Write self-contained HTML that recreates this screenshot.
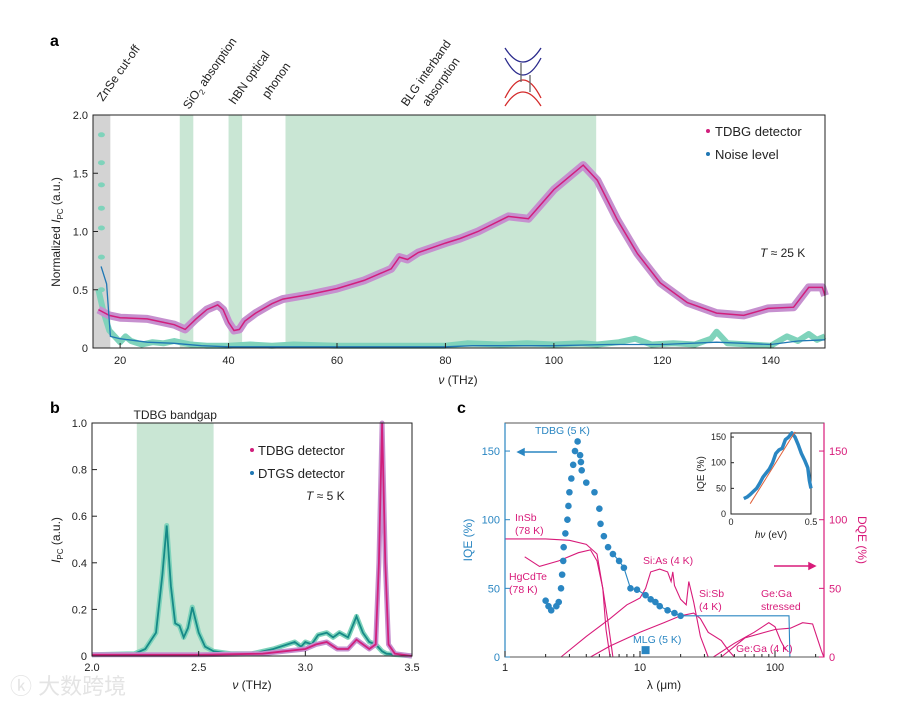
<!DOCTYPE html>
<html><head><meta charset="utf-8"><style>
body{margin:0;background:#fff;}
svg{display:block;font-family:"Liberation Sans","Noto Sans CJK SC",sans-serif;}
</style></head><body>
<svg id="fig" width="919" height="702" viewBox="0 0 919 702">
<rect x="0" y="0" width="919" height="702" fill="#fff"/>
<text x="50" y="46" font-size="16" font-weight="bold">a</text>
<text x="50" y="413" font-size="16" font-weight="bold">b</text>
<text x="457" y="413" font-size="16" font-weight="bold">c</text>
<g font-size="12" fill="#222">
<text transform="translate(103,102) rotate(-55)">ZnSe cut-off</text>
<text transform="translate(189,110) rotate(-55)">SiO<tspan font-size="8" dy="3">2</tspan><tspan dy="-3"> absorption</tspan></text>
<text transform="translate(235,105) rotate(-55)">hBN optical</text>
<text transform="translate(268,99) rotate(-55)">phonon</text>
<text transform="translate(407,107) rotate(-55)">BLG interband</text>
<text transform="translate(428,107) rotate(-55)">absorption</text>
</g>
<g fill="none" stroke-width="1.3">
<path d="M505,48 Q523,76 541,48" stroke="#2a2a8c"/>
<path d="M505,58 Q523,92 541,58" stroke="#2a2a8c"/>
<path d="M505,98 Q523,62 541,98" stroke="#d42a2a"/>
<path d="M505,106 Q523,78 541,106" stroke="#d42a2a"/>
<path d="M521,82 L521,63" stroke="#666"/>
<path d="M530,92 L530,75" stroke="#666"/>
</g>
<g id="pa"></g><g id="pb"></g><g id="pc"></g>
<text x="10" y="694" font-size="22" fill="#e4e4e4">ⓚ 大数跨境</text>
</svg>
<script>
// ---------- Panel a data ----------
const aTdbgX=[16,18,20,25,28,30,32,34,36,38,39,40,41,42,43,45,48,50,55,60,65,70,71.5,73,75,80,82.7,86,91.6,95.3,100,105.4,108,111.7,115.4,119.6,124.6,130,135,139.5,144.2,147,149.5,150];
const aTdbgY=[0.33,0.28,0.26,0.25,0.22,0.2,0.16,0.25,0.33,0.37,0.33,0.22,0.15,0.16,0.23,0.3,0.38,0.42,0.46,0.51,0.58,0.68,0.78,0.76,0.82,0.9,0.94,1.0,1.13,1.11,1.36,1.57,1.44,1.1,0.81,0.56,0.39,0.3,0.28,0.34,0.35,0.52,0.52,0.45];
const aNoiseX=[16.5,17.5,18.2,20,25,30,35,40,50,60,80,85,100,110,120,130,140,145,150];
const aNoiseY=[0.7,0.55,0.1,0.08,0.05,0.04,0.02,0.01,0.01,0.01,0.01,0.02,0.02,0.03,0.03,0.05,0.03,0.06,0.07];
const aRawNoiseX=[16,17,18,19,20,21,22,24,26,28,30,33,36,40,44,48,52,60,70,80,84,90,95,100,105,108,112,115,118,122,126,129,130,132,136,140,143,145,147,148.5,150];
const aRawNoiseY=[0.5,0.3,0.15,0.1,0.05,0.1,0.06,0.03,0.05,0.04,0.06,0.03,0.02,0.02,0.03,0.02,0.03,0.02,0.02,0.02,0.04,0.03,0.04,0.03,0.04,0.03,0.05,0.08,0.03,0.04,0.03,0.08,0.14,0.04,0.03,0.02,0.1,0.06,0.12,0.07,0.1];
const aDotsX=[16,16,16,16,16,16,16];
const aDotsY=[1.83,1.59,1.4,1.2,1.03,0.78,0.5];
const aXTicks=[20,40,60,80,100,120,140];
const aYTicks=[0,0.5,1.0,1.5,2.0];
const aYLabels=["0","0.5","1.0","1.5","2.0"];
// ---------- Panel b data ----------
const bTdbgX=[2.0,2.5,2.8,2.9,3.0,3.05,3.1,3.15,3.2,3.24,3.3,3.33,3.345,3.36,3.375,3.39,3.42,3.5];
const bTdbgY=[0.005,0.005,0.01,0.02,0.03,0.05,0.06,0.03,0.03,0.07,0.03,0.05,0.4,1.0,0.4,0.05,0.01,0.0];
const bDtgsX=[2.0,2.2,2.25,2.3,2.33,2.35,2.37,2.39,2.41,2.43,2.45,2.47,2.5,2.53,2.57,2.65,2.75,2.85,2.95,2.98,3.0,3.03,3.06,3.1,3.13,3.16,3.2,3.24,3.27,3.3,3.33,3.36,3.38,3.5];
const bDtgsY=[0.005,0.01,0.03,0.1,0.35,0.56,0.3,0.14,0.13,0.08,0.12,0.21,0.1,0.04,0.02,0.01,0.01,0.03,0.06,0.04,0.06,0.05,0.09,0.1,0.08,0.1,0.08,0.17,0.1,0.06,0.05,0.02,0.01,0.0];
const bXTicks=[2.0,2.5,3.0,3.5];
const bYTicks=[0,0.2,0.4,0.6,0.8,1.0];
const bYLabels=["0","0.2","0.4","0.6","0.8","1.0"];
// ---------- Panel c data ----------
const cIqeLam=[2.0,2.1,2.2,2.4,2.5,2.6,2.65,2.7,2.72,2.8,2.9,2.95,3.0,3.1,3.2,3.3,3.45,3.6,3.65,3.7,4.0,4.6,5.0,5.1,5.4,5.8,6.3,7.0,7.6,8.5,9.5,11,12,13,14,16,18,20];
const cIqeVal=[41,37,34,37,40,50,60,70,80,90,100,110,120,130,140,150,157,147,142,136,127,120,108,97,88,80,75,70,65,50,49,45,42,40,37,34,32,30];
const cIqeTailLam=[20,127,129];
const cIqeTailVal=[30,30,0];
const cMlgLam=[11];const cMlgVal=[5];
const cInsbLam=[1,2,3,4,4.8,5.3,5.6,6];const cInsbVal=[86,86,85,82,75,50,20,0];
const cHgLam=[1.4,1.8,2.5,3.5,4.3,4.8,5.3,5.8,6.3];const cHgVal=[73,66,70,76,78,70,50,25,0];
const cSiAsLam=[2.6,4,6,8,10,11,12,14,16,17,17.5,18,20,22,23,25,28,32];const cSiAsVal=[0,15,28,38,43,50,62,64,62,55,62,52,42,38,55,40,15,0];
const cSiSbLam=[4.3,6,10,15,20,25,28,32,40,45,50];const cSiSbVal=[0,8,18,25,30,32,28,18,12,5,0];
const cGeGaLam=[35,50,70,90,100,110,120];const cGeGaVal=[0,10,18,25,22,12,5];
const cGeGaSLam=[40,60,100,130,160,190,220,230];const cGeGaSVal=[0,14,20,21,25,24,5,0];
const cInsetE=[0.08,0.1,0.12,0.14,0.16,0.18,0.2,0.22,0.24,0.26,0.28,0.3,0.32,0.34,0.36,0.38,0.4,0.42,0.44,0.46,0.48,0.49,0.5];
const cInsetV=[30,33,38,44,50,60,72,80,88,100,118,125,128,145,150,158,150,135,118,105,90,65,50];
const cFitE=[0.12,0.4];const cFitV=[20,160];

const NS="http://www.w3.org/2000/svg";
function mk(parent,tag,attrs){const e=document.createElementNS(NS,tag);for(const k in attrs)e.setAttribute(k,attrs[k]);parent.appendChild(e);return e;}
function txt(parent,x,y,s,attrs){const e=mk(parent,'text',Object.assign({x:x,y:y},attrs||{}));e.textContent=s;return e;}
function pathOf(xs,ys,sx,sy){return xs.map((v,i)=>(i?'L':'M')+sx(v).toFixed(1)+','+sy(ys[i]).toFixed(1)).join('');}

// ===== Panel a =====
(function(){
const g=document.getElementById('pa');
const x=v=>93+(v-15)*(825-93)/135, y=v=>348-v*116.5;
const bands=[[15,18.2,'#d3d3d3','znse-band'],[31,33.5,'#c9e6d4','sio2-band'],[40,42.5,'#c9e6d4','hbn-band'],[50.5,107.8,'#c9e6d4','blg-band']];
bands.forEach(b=>{const r=mk(g,'rect',{x:x(b[0]),y:115,width:x(b[1])-x(b[0]),height:233,fill:b[2]});

});
let p=mk(g,'path',{d:pathOf(aRawNoiseX,aRawNoiseY,x,y),fill:'none',stroke:'#7fd3bb','stroke-width':6,'stroke-linejoin':'round'});


aDotsX.forEach((v,i)=>{const c=mk(g,'ellipse',{cx:x(v)+3,cy:y(aDotsY[i]),rx:3.5,ry:2.5,fill:'#7fd3bb'});

});
p=mk(g,'path',{d:pathOf(aTdbgX,aTdbgY,x,y),fill:'none',stroke:'#c690cf','stroke-width':8,'stroke-linejoin':'round'});


p=mk(g,'path',{d:pathOf(aTdbgX,aTdbgY,x,y),fill:'none',stroke:'#d11f7c','stroke-width':1.5});


p=mk(g,'path',{d:pathOf(aNoiseX,aNoiseY,x,y),fill:'none',stroke:'#1f77b4','stroke-width':1.3});


const f=mk(g,'rect',{x:93,y:115,width:732,height:233,fill:'none',stroke:'#222','stroke-width':1});


aXTicks.forEach(t=>{mk(g,'line',{x1:x(t),x2:x(t),y1:348,y2:343,stroke:'#222'});
const l=txt(g,x(t),364,String(t),{'font-size':11,'text-anchor':'middle',fill:'#222'});

});
aYTicks.forEach((t,i)=>{mk(g,'line',{x1:93,x2:98,y1:y(t),y2:y(t),stroke:'#222'});
const l=txt(g,88,y(t)+4,aYLabels[i],{'font-size':11,'text-anchor':'end',fill:'#222'});

});
let t=txt(g,458,384,'',{'font-size':12,'text-anchor':'middle',fill:'#222'});t.innerHTML='<tspan font-style="italic">ν</tspan> (THz)';


t=txt(g,0,0,'',{'font-size':12,'text-anchor':'middle',fill:'#222',transform:'translate(60,232) rotate(-90)'});t.innerHTML='Normalized <tspan font-style="italic">I</tspan><tspan font-size="8" dy="3">PC</tspan><tspan dy="-3"> (a.u.)</tspan>';


mk(g,'circle',{cx:708,cy:131,r:2,fill:'#d11f7c'});
t=txt(g,715,136,'TDBG detector',{'font-size':13,fill:'#222'});


mk(g,'circle',{cx:708,cy:154,r:2,fill:'#1f77b4'});
t=txt(g,715,159,'Noise level',{'font-size':13,fill:'#222'});


t=txt(g,760,257,'',{'font-size':12,fill:'#222'});t.innerHTML='<tspan font-style="italic">T</tspan> ≈ 25 K';


})();

// ===== Panel b =====
(function(){
const g=document.getElementById('pb');
const x=v=>92+(v-2)*(412-92)/1.5, y=v=>656-v*233;
let r=mk(g,'rect',{x:x(2.21),y:423,width:x(2.57)-x(2.21),height:233,fill:'#c9e6d4'});


let t=txt(g,x(2.39),419,'TDBG bandgap',{'font-size':12,'text-anchor':'middle',fill:'#222'});


let p=mk(g,'path',{d:pathOf(bDtgsX,bDtgsY,x,y),fill:'none',stroke:'#7fd3bb','stroke-width':5,'stroke-linejoin':'round'});


p=mk(g,'path',{d:pathOf(bDtgsX,bDtgsY,x,y),fill:'none',stroke:'#168a87','stroke-width':1.8});


p=mk(g,'path',{d:pathOf(bTdbgX,bTdbgY,x,y),fill:'none',stroke:'#c690cf','stroke-width':5,'stroke-linejoin':'round'});


p=mk(g,'path',{d:pathOf(bTdbgX,bTdbgY,x,y),fill:'none',stroke:'#d11f7c','stroke-width':1.8});


const f=mk(g,'rect',{x:92,y:423,width:320,height:233,fill:'none',stroke:'#222'});


bXTicks.forEach(v=>{mk(g,'line',{x1:x(v),x2:x(v),y1:656,y2:651,stroke:'#222'});
const l=txt(g,x(v),671,v.toFixed(1),{'font-size':11,'text-anchor':'middle',fill:'#222'});

});
bYTicks.forEach((v,i)=>{mk(g,'line',{x1:92,x2:97,y1:y(v),y2:y(v),stroke:'#222'});
const l=txt(g,87,y(v)+4,bYLabels[i],{'font-size':11,'text-anchor':'end',fill:'#222'});

});
t=txt(g,252,689,'',{'font-size':12,'text-anchor':'middle',fill:'#222'});t.innerHTML='<tspan font-style="italic">ν</tspan> (THz)';


t=txt(g,0,0,'',{'font-size':12,'text-anchor':'middle',fill:'#222',transform:'translate(60,540) rotate(-90)'});t.innerHTML='<tspan font-style="italic">I</tspan><tspan font-size="8" dy="3">PC</tspan><tspan dy="-3"> (a.u.)</tspan>';


mk(g,'circle',{cx:252,cy:450,r:2,fill:'#d11f7c'});
t=txt(g,258,455,'TDBG detector',{'font-size':13,fill:'#222'});


mk(g,'circle',{cx:252,cy:473,r:2,fill:'#1f77b4'});
t=txt(g,258,478,'DTGS detector',{'font-size':13,fill:'#222'});


t=txt(g,306,500,'',{'font-size':12,fill:'#222'});t.innerHTML='<tspan font-style="italic">T</tspan> ≈ 5 K';


})();

// ===== Panel c =====
(function(){
const g=document.getElementById('pc');
const x=v=>505+Math.log10(v)*135, y=v=>657-v*1.373;
const blue='#2a86c2', pink='#d81b7a';
[[cInsbLam,cInsbVal,'insb-curve'],[cHgLam,cHgVal,'hgcdte-curve'],[cSiAsLam,cSiAsVal,'sias-curve'],[cSiSbLam,cSiSbVal,'sisb-curve'],[cGeGaLam,cGeGaVal,'gega-curve'],[cGeGaSLam,cGeGaSVal,'gega-stressed-curve']].forEach(s=>{
const p=mk(g,'path',{d:pathOf(s[0],s[1],x,y),fill:'none',stroke:pink,'stroke-width':1.1});

});
let p=mk(g,'path',{d:pathOf(cIqeLam.slice(-12),cIqeVal.slice(-12),x,y)+pathOf(cIqeTailLam,cIqeTailVal,x,y).replace(/^M/,'L'),fill:'none',stroke:blue,'stroke-width':1.1});


cIqeLam.forEach((v,i)=>{const c=mk(g,'circle',{cx:x(v),cy:y(cIqeVal[i]),r:3.3,fill:blue});

});
cMlgLam.forEach((v,i)=>{const s=mk(g,'rect',{x:x(v)-4,y:y(cMlgVal[i])-4,width:8,height:8,fill:blue});

});
const f=mk(g,'rect',{x:505,y:423,width:319,height:234,fill:'none',stroke:'#555'});


mk(g,'line',{x1:505,x2:505,y1:423,y2:657,stroke:blue,'stroke-width':1.2});
mk(g,'line',{x1:824,x2:824,y1:423,y2:657,stroke:pink,'stroke-width':1.2});
[1,10,100].forEach(v=>{mk(g,'line',{x1:x(v),x2:x(v),y1:657,y2:651,stroke:'#222'});
const l=txt(g,x(v),671,String(v),{'font-size':11,'text-anchor':'middle',fill:'#222'});

});
[2,3,4,5,6,7,8,9,20,30,40,50,60,70,80,90,200].forEach(v=>mk(g,'line',{x1:x(v),x2:x(v),y1:657,y2:654,stroke:'#222'}));
[0,50,100,150].forEach(v=>{mk(g,'line',{x1:505,x2:510,y1:y(v),y2:y(v),stroke:blue});
let l=txt(g,500,y(v)+4,String(v),{'font-size':11,'text-anchor':'end',fill:blue});


mk(g,'line',{x1:819,x2:824,y1:y(v),y2:y(v),stroke:pink});
l=txt(g,829,y(v)+4,String(v),{'font-size':11,fill:pink});

});
let t=txt(g,664,689,'λ (μm)',{'font-size':12,'text-anchor':'middle',fill:'#222'});


t=txt(g,0,0,'IQE (%)',{'font-size':12,'text-anchor':'middle',fill:blue,transform:'translate(472,540) rotate(-90)'});


t=txt(g,0,0,'DQE (%)',{'font-size':12,'text-anchor':'middle',fill:pink,transform:'translate(858,540) rotate(90)'});


mk(g,'path',{d:'M518,452 L557,452 M518,452 L524,449 L524,455 Z',stroke:blue,fill:blue,'stroke-width':1.5});
mk(g,'path',{d:'M774,566 L815,566 M815,566 L809,563 L809,569 Z',stroke:pink,fill:pink,'stroke-width':1.5});
const lab=[['TDBG (5 K)',535,434,blue],['InSb',515,521,pink],['(78 K)',515,534,pink],['HgCdTe',509,580,pink],['(78 K)',509,593,pink],['Si:As (4 K)',643,564,pink],['Si:Sb',699,597,pink],['(4 K)',699,610,pink],['Ge:Ga',761,597,pink],['stressed',761,610,pink],['Ge:Ga (4 K)',736,652,pink],['MLG (5 K)',633,643,blue]];
lab.forEach(a=>{const l=txt(g,a[1],a[2],a[0],{'font-size':10.5,fill:a[3]});

});
// inset
const ix=v=>731+v*160, iy=v=>514-v*0.513;
const ir=mk(g,'rect',{x:731,y:433,width:80,height:81,fill:'#fff',stroke:'#222'});


p=mk(g,'path',{d:pathOf(cInsetE,cInsetV,ix,iy),fill:'none',stroke:blue,'stroke-width':3.5,'stroke-linejoin':'round'});


p=mk(g,'path',{d:pathOf(cFitE,cFitV,ix,iy),fill:'none',stroke:'#e0603a','stroke-width':1});


[0,50,100,150].forEach(v=>{mk(g,'line',{x1:731,x2:734,y1:iy(v),y2:iy(v),stroke:'#222'});
const l=txt(g,726,iy(v)+3,String(v),{'font-size':9,'text-anchor':'end',fill:'#222'});

});
[[0,'0'],[0.5,'0.5']].forEach(a=>{const l=txt(g,ix(a[0]),525,a[1],{'font-size':9,'text-anchor':'middle',fill:'#222'});

});
t=txt(g,771,538,'',{'font-size':10,'text-anchor':'middle',fill:'#222'});t.innerHTML='<tspan font-style="italic">hν</tspan> (eV)';


t=txt(g,0,0,'IQE (%)',{'font-size':10,'text-anchor':'middle',fill:'#222',transform:'translate(704,474) rotate(-90)'});


})();
</script>
</body></html>
